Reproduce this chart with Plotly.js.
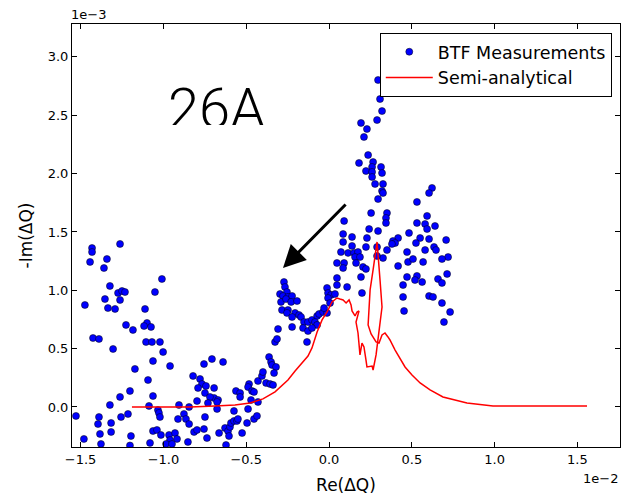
<!DOCTYPE html>
<html>
<head>
<meta charset="utf-8">
<script src="https://cdn.plot.ly/plotly-3.0.1.min.js"></script>
<style>html,body{margin:0;padding:0;background:#fff;}#chart{width:622px;height:495px;}</style>
</head>
<body>
<div id="chart"></div>
<script>
// Re(ΔQ) in units of 1e-2, -Im(ΔQ) in units of 1e-3 (as on the axes)
const btfRe = [
 -1.431,-1.431,-1.262,-1.443,-1.341,-1.359,-1.009,-1.323,-1.274,-1.250,-1.232,-1.051,-1.353,-1.262,-1.474,-1.335,-1.292,-1.111,
 -1.226,-1.184,-1.099,-1.117,-1.075,-1.425,-1.389,-1.105,-1.069,-1.021,-1.304,-1.002,-1.063,-0.960,-1.172,-1.093,-1.202,-1.262,
 -1.063,-1.323,-1.087,-0.906,-0.845,-1.528,-1.033,-1.027,-1.021,-1.389,-1.214,-1.256,-1.316,-1.395,-1.383,-0.876,-0.912,-0.864,
 -0.845,-1.316,-1.196,-1.063,-1.039,-1.015,-0.966,-0.930,-0.960,-0.918,-0.815,-1.480,-1.377,-1.081,-0.984,-0.948,-0.852,-1.202,
 -0.821,-0.779,-0.767,-0.743,-0.791,-0.694,-0.707,-0.755,-0.640,-0.749,-0.694,-0.719,-0.670,-0.676,-0.731,-0.797,-0.676,-0.749,
 -0.797,-0.755,-0.737,-0.664,-0.628,-0.610,-0.604,-0.598,-0.592,-0.574,-0.556,-0.550,-0.574,-0.622,-0.525,-0.495,-0.453,-0.435,
 -0.489,-0.429,-0.471,-0.562,-0.537,-0.537,-0.483,-0.489,-0.465,-0.453,-0.429,-0.405,-0.399,-0.380,-0.356,-0.338,-0.362,-0.350,
 -0.344,-0.320,-0.332,-0.326,-0.133,-0.314,-0.308,
 -0.272,-0.266,-0.296,-0.254,-0.278,-0.248,-0.223,-0.290,-0.260,-0.229,-0.193,-0.284,-0.248,-0.254,-0.205,-0.181,-0.223,-0.169,
 -0.151,-0.127,-0.103,-0.072,-0.060,-0.036,-0.085,-0.072,-0.157,-0.127,-0.103,-0.223,-0.012,-0.030,-0.012,-0.006,0.012,0.036,
 -0.006,0.006,0.048,0.048,0.109,
 0.296,0.308,0.320,0.290,0.193,0.229,0.211,0.236,0.181,0.266,0.260,0.314,0.223,0.260,0.320,0.260,0.278,0.326,0.320,0.326,0.296,
 0.622,0.604,0.531,0.254,0.350,0.344,0.344,0.091,0.592,0.531,0.580,0.640,0.592,0.242,0.296,0.483,0.085,0.139,0.229,0.417,0.386,
 0.399,0.380,0.550,0.604,0.707,0.085,0.525,0.139,0.223,0.290,0.350,0.634,0.646,0.580,0.072,0.115,0.151,0.175,0.471,0.157,0.187,
 0.326,0.290,0.719,0.682,0.477,0.507,0.568,0.048,0.091,0.163,0.085,0.205,0.223,0.417,0.713,0.193,0.471,0.531,0.519,0.562,0.658,
 0.682,0.447,0.199,0.447,0.604,0.628,0.682,0.453,0.731,0.694
];
const btfIm = [
 1.362,1.328,1.397,1.243,1.268,1.191,1.097,1.037,0.977,0.994,0.985,0.985,0.925,0.917,0.874,0.848,0.840,0.840,
 0.703,0.660,0.720,0.694,0.686,0.591,0.583,0.557,0.557,0.557,0.497,0.471,0.394,0.351,0.326,0.231,0.137,0.086,
 0.094,0.017,0.009,0.017,0.000,-0.077,-0.026,-0.051,-0.086,-0.086,-0.060,-0.086,-0.137,-0.146,-0.231,-0.060,-0.103,-0.103,
 -0.146,-0.214,-0.249,-0.206,-0.197,-0.240,-0.240,-0.223,-0.283,-0.274,-0.214,-0.274,-0.317,-0.308,-0.317,-0.317,-0.300,-0.330,
 0.266,0.240,0.197,0.180,0.163,0.163,0.411,0.368,0.386,0.120,0.077,0.086,0.060,0.043,0.034,0.051,-0.017,-0.086,
 -0.197,-0.189,-0.266,-0.223,-0.180,-0.206,-0.249,-0.171,-0.137,-0.120,-0.120,-0.103,-0.034,-0.326,-0.223,-0.137,-0.103,-0.077,
 -0.017,0.043,0.060,0.137,0.120,0.086,0.197,0.171,0.137,0.129,0.223,0.266,0.300,0.206,0.197,0.189,0.428,0.386,
 0.360,0.343,0.291,0.557,0.557,0.583,0.668,
 1.071,1.028,0.968,0.985,0.951,0.943,0.951,0.900,0.925,0.900,0.908,0.831,0.831,0.806,0.806,0.788,0.771,0.771,
 0.728,0.728,0.746,0.780,0.797,0.814,0.728,0.703,0.677,0.651,0.677,0.686,0.806,0.848,1.020,0.977,0.960,0.968,
 0.934,0.891,1.105,1.045,1.028,
 2.802,2.639,2.536,2.459,2.434,2.382,2.314,2.159,2.091,2.099,2.057,2.057,2.022,2.014,2.005,1.971,1.911,1.911,1.851,1.834,1.782,
 1.877,1.834,1.757,1.662,1.662,1.620,1.577,1.594,1.637,1.577,1.568,1.551,1.525,1.525,1.508,1.491,1.482,1.457,1.448,1.448,1.422,
 1.405,1.397,1.448,1.440,1.431,1.414,1.405,1.380,1.371,1.371,1.345,1.371,1.345,1.345,1.328,1.320,1.320,1.328,1.328,1.285,1.285,
 1.277,1.294,1.285,1.268,1.243,1.268,1.243,1.234,1.234,1.234,1.191,1.200,1.183,1.208,1.140,1.114,1.114,1.123,1.088,1.071,1.097,
 1.063,1.045,0.977,0.943,0.951,0.943,0.891,0.823,0.814,0.728
];
const semiRe = [
 -1.190,-1.021,-0.839,-0.688,-0.568,-0.477,-0.399,-0.326,-0.248,-0.205,-0.163,-0.127,-0.103,-0.072,-0.042,-0.012,0.018,0.048,
 0.066,0.085,0.103,0.121,0.133,0.139,0.157,0.169,0.181,0.163,0.175,0.187,0.199,0.211,0.223,0.229,0.260,0.266,0.284,0.296,
 0.314,0.320,0.308,0.290,0.266,0.248,0.236,0.254,0.284,0.302,0.320,0.338,0.356,0.368,0.399,0.429,0.459,0.501,0.550,0.610,
 0.688,0.833,0.990,1.232,1.558
];
const semiIm = [
 0.000,0.000,0.000,0.009,0.017,0.034,0.069,0.129,0.231,0.308,0.377,0.437,0.506,0.643,0.746,0.814,0.900,0.934,
 0.925,0.917,0.891,0.917,0.874,0.823,0.780,0.814,0.823,0.728,0.634,0.446,0.548,0.514,0.403,0.343,0.351,0.317,0.446,0.574,
 0.746,0.857,1.088,1.414,1.174,1.003,0.703,0.626,0.557,0.548,0.617,0.634,0.600,0.574,0.488,0.420,0.343,0.274,0.206,0.146,
 0.086,0.034,0.009,0.009,0.009
];
const xTicks = [-1.5,-1.0,-0.5,0.0,0.5,1.0,1.5];
const yTicks = [0.0,0.5,1.0,1.5,2.0,2.5,3.0];

const FONT = 'DejaVu Sans, sans-serif';
const traces = [
  {x: btfRe, y: btfIm, type: 'scatter', mode: 'markers', name: 'BTF Measurements',
   marker: {color: '#0000ff', size: 7, line: {color: '#000', width: 0.5}}},
  {x: semiRe, y: semiIm, type: 'scatter', mode: 'lines', name: 'Semi-analytical',
   line: {color: '#ff0000', width: 1.5}}
];
const axisBase = {showline: true, linecolor: '#000', linewidth: 1, mirror: 'ticks', ticks: 'inside',
  ticklen: 5, tickcolor: '#000', showgrid: false, zeroline: false, tickformat: '.1f',
  tickfont: {family: FONT, size: 13, color: '#000'}, automargin: false};
const layout = {
  width: 622, height: 495, paper_bgcolor: '#fff', plot_bgcolor: '#fff',
  margin: {l: 72, r: 2, t: 24, b: 48},
  showlegend: true,
  legend: {x: 0.985, y: 0.979, xanchor: 'right', yanchor: 'top', bgcolor: '#fff', bordercolor: '#000',
    borderwidth: 1, font: {family: FONT, size: 17.5, color: '#000'}, itemwidth: 47},
  xaxis: Object.assign({}, axisBase, {range: [-1.552, 1.757], tickvals: xTicks,
    title: {text: 'Re(ΔQ)', font: {family: FONT, size: 17, color: '#000'}, standoff: 14}}),
  yaxis: Object.assign({}, axisBase, {range: [-0.343, 3.282], tickvals: yTicks,
    title: {text: '-Im(ΔQ)', font: {family: FONT, size: 17, color: '#000'}, standoff: 10}}),
  annotations: [
    {xref: 'paper', yref: 'paper', x: 0, y: 1, xanchor: 'left', yanchor: 'bottom', text: '1e\u22123',
     showarrow: false, font: {family: FONT, size: 13, color: '#000'}, xshift: -3},
    {xref: 'paper', yref: 'paper', x: 1, y: 0, xanchor: 'right', yanchor: 'top', text: '1e\u22122',
     showarrow: false, font: {family: FONT, size: 13, color: '#000'}, yshift: -22},
    {xref: 'paper', yref: 'paper', x: 0.263, y: 0.8825, xanchor: 'center', yanchor: 'top', text: '26A',
     showarrow: false, height: 49, valign: 'top', font: {family: 'Roboto, sans-serif', size: 56, color: '#000', weight: 300}},
    {x: -0.278, y: 1.191, ax: 0.109, ay: 1.748, axref: 'x', ayref: 'y', xref: 'x', yref: 'y', text: '',
     showarrow: true, arrowhead: 2, arrowsize: 1.5, arrowwidth: 3, arrowcolor: '#000', standoff: 0}
  ]
};
Plotly.newPlot('chart', traces, layout, {displayModeBar: false, staticPlot: true});
</script>
</body>
</html>
